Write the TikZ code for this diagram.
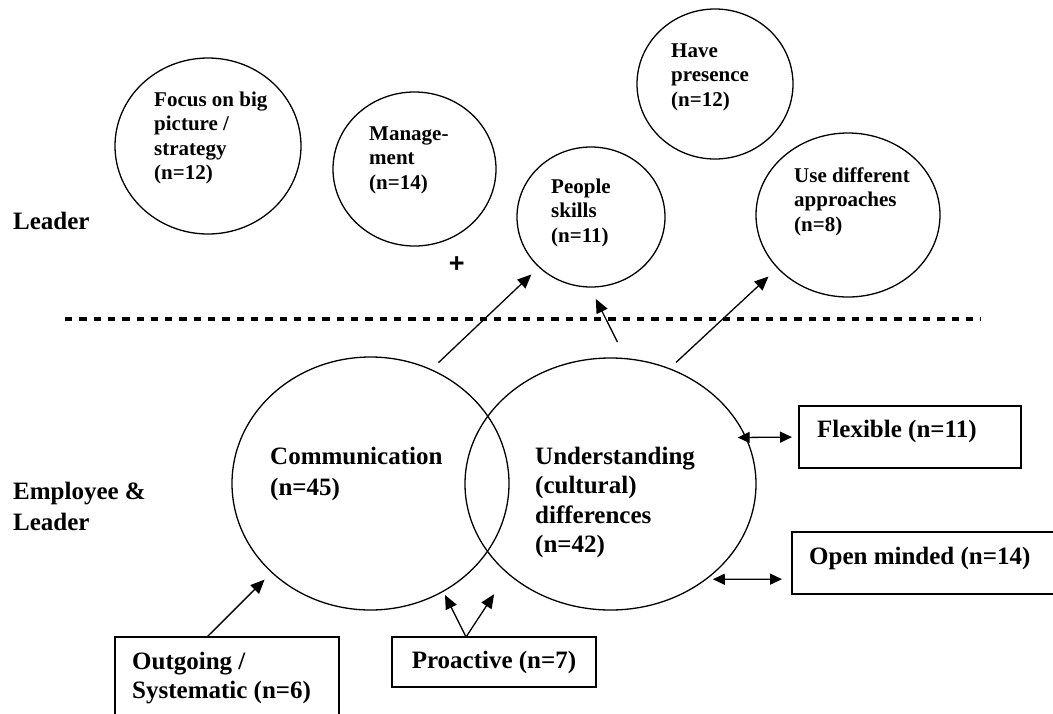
\documentclass[tikz,border=0pt]{standalone}
\usepackage{fontspec}
\setmainfont{Liberation Serif}
\newfontfamily\plusfont{Liberation Sans}
\usetikzlibrary{shapes.geometric,arrows.meta,calc}
\begin{document}
\begin{tikzpicture}[x=1pt,y=-1pt,
 circ/.style={ellipse,draw,line width=1.3pt,inner sep=0pt,outer sep=0pt},
 txtbig/.style={anchor=north west,inner sep=0pt,align=left,font=\bfseries\fontsize{25}{29.5}\selectfont},
 txtsmall/.style={anchor=north west,inner sep=0pt,align=left,font=\bfseries\fontsize{21}{24.5}\selectfont},
 boxnode/.style={rectangle,draw,line width=1.3pt,inner sep=0pt,outer sep=0pt},
 arr/.style={line width=1.3pt,-{Triangle[length=14pt,width=12pt]}},
 dbl/.style={line width=1.3pt,{Triangle[length=12pt,width=11pt]}-{Triangle[length=12pt,width=11pt]}},
 sep/.style={line width=3.3pt,dash pattern=on 7.3pt off 7pt}
]
\useasboundingbox (0,0) rectangle (1053,713);
\clip (0,0) rectangle (1053,713);

% Leader circles
\node[circ,minimum width=186pt,minimum height=176pt] (focus) at (208,146) {};
\node[txtsmall] (focust) at (154,91.5) {Focus on big\\picture /\\strategy\\(n=12)};
\node[circ,minimum width=163pt,minimum height=154pt] (mgmt) at (414.5,169) {};
\node[txtsmall] (mgmtt) at (369,126.5) {Manage-\\ment\\(n=14)};
\node[circ,minimum width=156pt,minimum height=150pt] (have) at (715,84) {};
\node[txtsmall] (havet) at (671,43.5) {Have\\presence\\(n=12)};
\node[circ,minimum width=148pt,minimum height=140pt] (people) at (591,217) {};
\node[txtsmall] (peoplet) at (551,178.5) {People\\skills\\(n=11)};
\node[circ,minimum width=184pt,minimum height=164pt] (use) at (848,215) {};
\node[txtsmall] (uset) at (794,167.5) {Use different\\approaches\\(n=8)};
\node[font=\plusfont\bfseries\fontsize{27}{27}\selectfont,inner sep=0pt] (plus) at (456.7,265) {+};

% side labels
\node[txtbig] (leader) at (13,211.5) {Leader};
\node[txtbig,font=\bfseries\fontsize{25}{31}\selectfont] (empl) at (13,481.5) {Employee \&\\Leader};

% separator
\coordinate (dl) at (65,319);
\coordinate (dr) at (981,319);
\draw[sep] (dl) -- (dr);

% Employee & Leader circles
\node[circ,minimum width=277pt,minimum height=253pt] (comm) at (370.5,483.5) {};
\node[txtbig,font=\bfseries\fontsize{25}{31}\selectfont] (commt) at (270,446.5) {Communication\\(n=45)};
\node[circ,minimum width=291pt,minimum height=252pt] (und) at (610.5,484) {};
\node[txtbig] (undt) at (535,446.5) {Understanding\\(cultural)\\differences\\(n=42)};

% boxes
\node[boxnode,minimum width=222pt,minimum height=62pt] (flex) at (910,437) {};
\node[txtbig,anchor=west] (flext) at (817,431) {Flexible (n=11)};
\node[boxnode,minimum width=290pt,minimum height=62pt] (open) at (937,563) {};
\node[txtbig,anchor=west] (opent) at (809,558) {Open minded (n=14)};
\node[boxnode,minimum width=224pt,minimum height=100pt] (outg) at (227,687) {};
\node[txtbig] (outgt) at (132,651.5) {Outgoing /\\Systematic (n=6)};
\node[boxnode,minimum width=204pt,minimum height=50pt,font=\bfseries\fontsize{25}{29.5}\selectfont] (pro) at (494,662) {Proactive (n=7)};

% connectors
\draw[arr,shorten <=10.35pt,shorten >=10.8pt] (comm.62.78) -- (people.224.8);
\draw[arr,shorten <=18.5pt,shorten >=13.35pt] (und.83.36) -- (people.269.26);
\draw[arr,shorten <=9.35pt,shorten >=12.58pt] (und.63.56) -- (use.217.56);
\coordinate (outgS) at ($(outg.north west)!0.411!(outg.north east)$);
\draw[arr,shorten >=10.3pt] (outgS) -- (comm.222.3);
\coordinate (proS) at ($(pro.north west)!0.363!(pro.north east)$);
\draw[arr,shorten >=4.2pt] (proS) -- (comm.304.0);
\draw[arr,shorten >=25pt] (proS) -- (und.221.75);
\coordinate (openE) at ($(open.south west)!0.24!(open.north west)$);
\draw[dbl,shorten <=-8pt,shorten >=7pt] (und.19.64) -- (flex.west);
\draw[dbl,shorten <=7pt,shorten >=10pt] (und.315.2) -- (openE);
\end{tikzpicture}
\end{document}
